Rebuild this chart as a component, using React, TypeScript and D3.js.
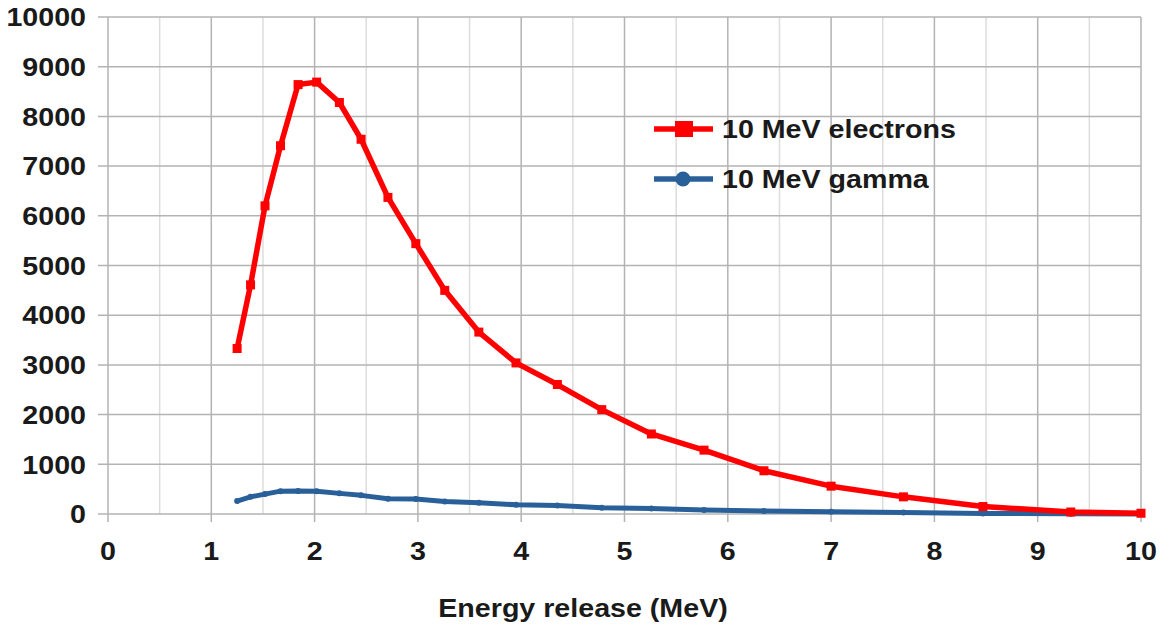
import { useEffect, useRef } from 'react'
import * as d3 from 'd3'

// energy release values shared by both series (MeV)
const energy = [1.25, 1.38, 1.52, 1.67, 1.84, 2.02, 2.24, 2.45, 2.71, 2.98, 3.26, 3.59, 3.95, 4.35, 4.78, 5.26, 5.77, 6.35, 7.0, 7.7, 8.47, 9.32, 10]
const electrons = [3330, 4610, 6200, 7410, 8640, 8690, 8280, 7540, 6370, 5440, 4500, 3660, 3040, 2605, 2100, 1610, 1285, 870, 560, 345, 150, 40, 15]
const gamma = [260, 345, 400, 460, 465, 460, 415, 375, 305, 300, 250, 225, 185, 172, 128, 110, 80, 60, 45, 30, 12, 5, 0]

const xTicks = [0, 1, 2, 3, 4, 5, 6, 7, 8, 9, 10]
const xMinor = [0.5, 1.5, 2.5, 3.5, 4.5, 5.5, 6.5, 7.5, 8.5, 9.5]
const yTicks = [0, 1000, 2000, 3000, 4000, 5000, 6000, 7000, 8000, 9000, 10000]

const RED = '#ff0000'
const BLUE = '#2a6099'
const FONT = '"Liberation Sans", Arial, sans-serif'
const FS = 26.5
const STRETCH = 1.08 // the source text is a bit wider than the font

export default function App() {
  const svgRef = useRef<SVGSVGElement>(null)

  useEffect(() => {
    if (!svgRef.current) return
    const svg = d3.select(svgRef.current)
    svg.selectAll('*').remove()

    const margin = { left: 108, right: 25, top: 17, bottom: 114 }
    const width = 1166
    const height = 628

    const x = d3.scaleLinear().domain([0, 10]).range([margin.left, width - margin.right])
    const y = d3.scaleLinear().domain([0, 10000]).range([height - margin.bottom, margin.top])

    const g = svg.append('g')

    const label = (sel: d3.Selection<any, any, any, any>, px: (d: any) => number, py: (d: any) => number) =>
      sel.attr('transform', (d: any) => `translate(${px(d)},${py(d)}) scale(${STRETCH},1)`)
        .attr('font-family', FONT)
        .attr('font-weight', 'bold')
        .attr('font-size', FS)
        .attr('fill', '#1a1a1a')

    // minor vertical grid
    g.selectAll('.minor')
      .data(xMinor)
      .enter()
      .append('line')
      .attr('x1', d => x(d))
      .attr('x2', d => x(d))
      .attr('y1', y(0))
      .attr('y2', y(10000))
      .attr('stroke', '#dddddd')
      .attr('stroke-width', 1.5)

    // major vertical grid + ticks
    g.selectAll('.major')
      .data(xTicks)
      .enter()
      .append('line')
      .attr('x1', d => x(d))
      .attr('x2', d => x(d))
      .attr('y1', y(0) + 8)
      .attr('y2', y(10000))
      .attr('stroke', '#b3b3b3')
      .attr('stroke-width', 1.5)

    // horizontal grid + ticks
    g.selectAll('.hgrid')
      .data(yTicks)
      .enter()
      .append('line')
      .attr('x1', x(0) - 10)
      .attr('x2', x(10))
      .attr('y1', d => y(d))
      .attr('y2', d => y(d))
      .attr('stroke', '#b3b3b3')
      .attr('stroke-width', 1.5)

    // y labels
    label(
      g.selectAll('.ylab').data(yTicks).enter().append('text'),
      () => x(0) - 22,
      d => y(d)
    )
      .attr('dy', '0.35em')
      .attr('text-anchor', 'end')
      .text(d => String(d))

    // x labels
    label(
      g.selectAll('.xlab').data(xTicks).enter().append('text'),
      d => x(d),
      () => y(0) + 37
    )
      .attr('dy', '0.35em')
      .attr('text-anchor', 'middle')
      .text(d => String(d))

    // axis title
    label(g.append('text'), () => 583, () => 617)
      .attr('text-anchor', 'middle')
      .text('Energy release (MeV)')

    const line = d3.line<number>()
      .x((_, i) => x(energy[i]))
      .y(d => y(d))

    // gamma series
    g.append('path')
      .attr('d', line(gamma))
      .attr('fill', 'none')
      .attr('stroke', BLUE)
      .attr('stroke-width', 5)
      .attr('stroke-linejoin', 'round')
    g.selectAll('.gdot')
      .data(gamma)
      .enter()
      .append('circle')
      .attr('cx', (_, i) => x(energy[i]))
      .attr('cy', d => y(d))
      .attr('r', 3)
      .attr('fill', BLUE)

    // electrons series
    g.append('path')
      .attr('d', line(electrons))
      .attr('fill', 'none')
      .attr('stroke', RED)
      .attr('stroke-width', 5.5)
      .attr('stroke-linejoin', 'round')
    g.selectAll('.edot')
      .data(electrons)
      .enter()
      .append('rect')
      .attr('x', (_, i) => x(energy[i]) - 4.5)
      .attr('y', d => y(d) - 4.5)
      .attr('width', 9)
      .attr('height', 9)
      .attr('fill', RED)

    // legend
    const legend = [
      { label: '10 MeV electrons', color: RED, shape: 'square' },
      { label: '10 MeV gamma', color: BLUE, shape: 'circle' }
    ]
    const lg = g.selectAll('.legend')
      .data(legend)
      .enter()
      .append('g')
      .attr('transform', (_, i) => `translate(654,${129 + i * 50})`)
    lg.append('line')
      .attr('x1', 0)
      .attr('x2', 59)
      .attr('stroke', d => d.color)
      .attr('stroke-width', 5.5)
    lg.each(function (d) {
      const s = d3.select(this)
      if (d.shape === 'square') {
        s.append('rect').attr('x', 21).attr('y', -8).attr('width', 18).attr('height', 16).attr('fill', d.color)
      } else {
        s.append('circle').attr('cx', 29).attr('cy', 0).attr('r', 7.5).attr('fill', d.color)
      }
    })
    label(lg.append('text'), () => 68, () => 0)
      .attr('dy', '0.35em')
      .text(d => d.label)
  }, [])

  return (
    <svg
      ref={svgRef}
      width={1166}
      height={628}
      style={{ position: 'absolute', left: 0, top: 0, background: '#ffffff' }}
    ></svg>
  )
}
